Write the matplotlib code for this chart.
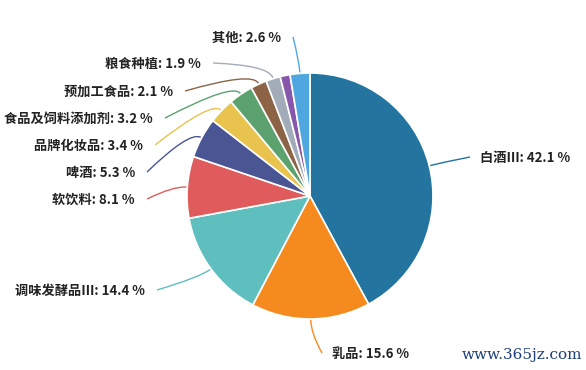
import numpy as np
import matplotlib.pyplot as plt
from matplotlib.path import Path
from matplotlib.patches import PathPatch

plt.rcParams['font.family'] = ['Noto Sans CJK SC', 'DejaVu Sans']

categories = ['白酒III', '乳品', '调味发酵品III', '软饮料', '啤酒', '品牌化妆品',
              '食品及饲料添加剂', '预加工食品', '粮食种植', '', '其他']
shares = [42.1, 15.6, 14.4, 8.1, 5.3, 3.4, 3.2, 2.1, 1.9, 1.3, 2.6]
colors = ['#23749f', '#f58a1f', '#5fbfbe', '#e05c5c', '#4a5593', '#e8c34e',
          '#5ba26e', '#8c6445', '#a2acb8', '#8757ab', '#4ea8df']

W, H = 586, 370
cx, cy, R = 310, 196, 123

# end of each leader line, pixels from top-left (None = no label)
label_pos = [(470, 157), (322, 353), (157, 290), (147, 199), (147, 172), (155, 145),
             (165, 118), (185, 91), (213, 63), None, (293, 37)]

fig = plt.figure(figsize=(W / 100, H / 100), dpi=100)
ax = fig.add_axes([0, 0, 1, 1])

wedges, _ = ax.pie(shares, colors=colors, startangle=90, counterclock=False,
                   center=(cx, H - cy), radius=R,
                   wedgeprops=dict(edgecolor='white', linewidth=1.2))
ax.set_xlim(0, W)
ax.set_ylim(0, H)
ax.set_aspect('equal')
ax.axis('off')

for w, name, v, col, pos in zip(wedges, categories, shares, colors, label_pos):
    if pos is None:
        continue
    a = np.deg2rad((w.theta1 + w.theta2) / 2)
    d = np.array([np.cos(a), np.sin(a)])
    c = np.array([cx, H - cy])
    p0 = c + (R + 1) * d
    p1 = c + (R + 14) * d
    p2 = np.array([pos[0], H - pos[1]])
    path = Path([p0, p1, p2], [Path.MOVETO, Path.CURVE3, Path.CURVE3])
    ax.add_patch(PathPatch(path, fill=False, edgecolor=col, lw=1))
    txt = f'{name}: {v} %'
    if pos[0] < cx:
        ax.text(pos[0] - 12, p2[1] - 1, txt, ha='right', va='center',
                fontsize=9.5, fontweight='bold', color='#222222')
    else:
        ax.text(pos[0] + 10, p2[1] - 1, txt, ha='left', va='center',
                fontsize=9.5, fontweight='bold', color='#222222')

ax.text(462, H - 355, 'www.365jz.com', ha='left', va='center',
        family='DejaVu Serif', fontsize=11, color='#1c3f7c')

fig.savefig('out.png', dpi=100)
